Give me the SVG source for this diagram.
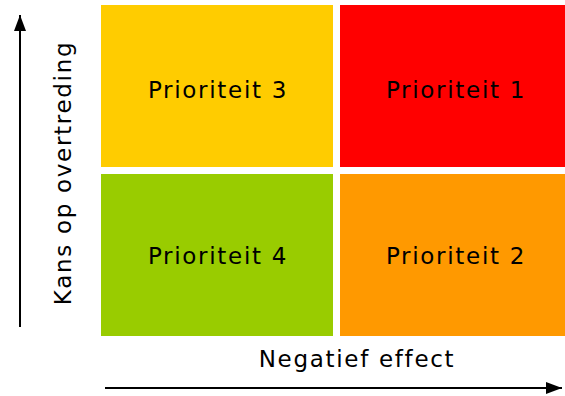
<svg xmlns="http://www.w3.org/2000/svg" width="565" height="396" viewBox="0 0 565 396">
<style>
.lbl{font-family:"DejaVu Sans",Verdana,sans-serif;font-size:23px;fill:#000;letter-spacing:1.7px}
.ax{stroke:#000;stroke-width:2;fill:none}
</style>
<defs>
<marker id="ah" markerWidth="16" markerHeight="12" refX="16" refY="6" orient="auto" markerUnits="userSpaceOnUse" viewBox="0 0 16 12">
<path d="M0,0 L16,6 L0,12 Z" fill="#000"/>
</marker>
</defs>
<rect width="565" height="396" fill="#fff"/>
<g id="p3"><rect x="101" y="5" width="232" height="162" fill="#FFCC00"/><text class="lbl" x="218" y="98" text-anchor="middle">Prioriteit 3</text></g>
<g id="p1"><rect x="340" y="5" width="225" height="162" fill="#FF0000"/><text class="lbl" x="456" y="98" text-anchor="middle">Prioriteit 1</text></g>
<g id="p4"><rect x="101" y="174" width="232" height="162" fill="#99CC00"/><text class="lbl" x="218" y="264" text-anchor="middle">Prioriteit 4</text></g>
<g id="p2"><rect x="340" y="174" width="225" height="162" fill="#FF9900"/><text class="lbl" x="456" y="264" text-anchor="middle">Prioriteit 2</text></g>
<g id="connectors">
<line class="ax" x1="20" y1="327" x2="20" y2="15" marker-end="url(#ah)"/>
<line class="ax" x1="105" y1="388" x2="562" y2="388" marker-end="url(#ah)"/>
</g>
<text class="lbl" x="357" y="367" text-anchor="middle">Negatief effect</text>
<text class="lbl" transform="translate(71,173) rotate(-90)" text-anchor="middle">Kans op overtreding</text>
</svg>
